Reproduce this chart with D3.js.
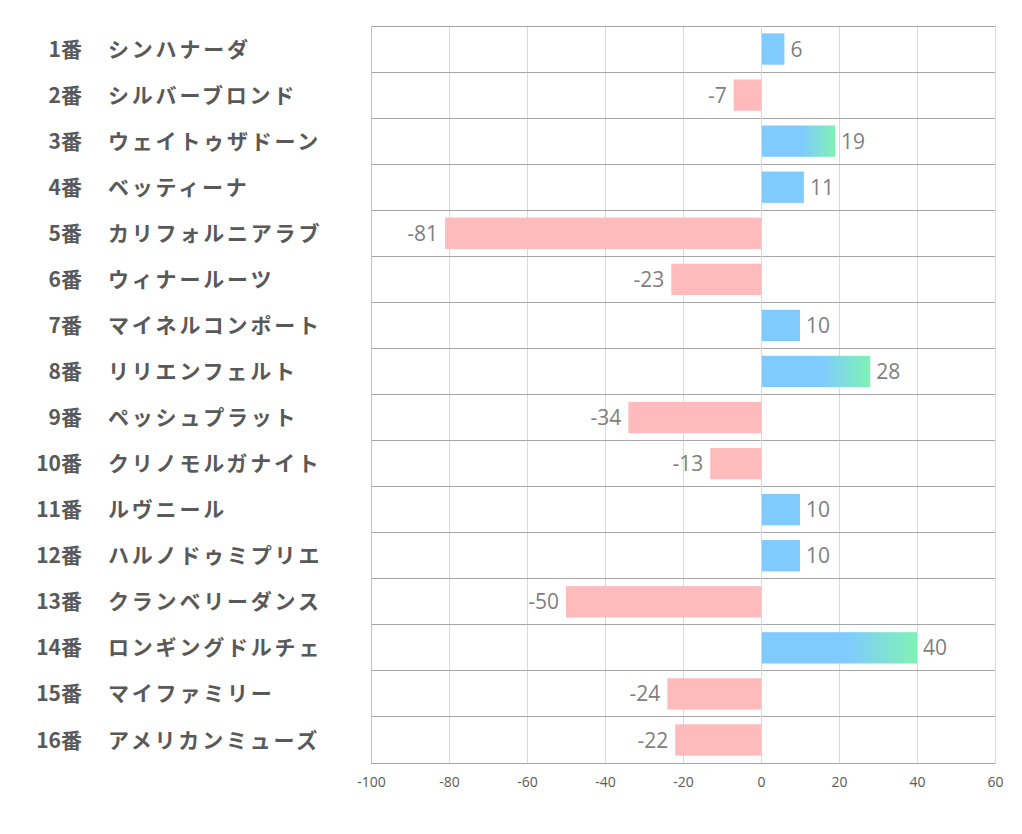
<!DOCTYPE html>
<html><head><meta charset="utf-8">
<script src="https://cdn.jsdelivr.net/npm/d3@7"></script>
<style>body{margin:0;background:#fff}</style>
</head><body>
<svg id="c" width="1022" height="834"></svg>
<script>
const numbers = ["1番","2番","3番","4番","5番","6番","7番","8番","9番","10番","11番","12番","13番","14番","15番","16番"];
const names = ["シンハナーダ","シルバーブロンド","ウェイトゥザドーン","ベッティーナ","カリフォルニアラブ","ウィナールーツ","マイネルコンポート","リリエンフェルト","ペッシュプラット","クリノモルガナイト","ルヴニール","ハルノドゥミプリエ","クランベリーダンス","ロンギングドルチェ","マイファミリー","アメリカンミューズ"];
const values = [6,-7,19,11,-81,-23,10,28,-34,-13,10,10,-50,40,-24,-22];
const tickValues = [-100,-80,-60,-40,-20,0,20,40,60];

const svg = d3.select("#c");
const L = 371, R = 995, T = 26, B = 763;
const x = d3.scaleLinear().domain([-100,60]).range([L,R]);
const y = d3.scaleBand().domain(d3.range(values.length)).range([T,B]).paddingInner(0.32).paddingOuter(0.16);
const rowH = (B-T)/values.length;

svg.append("g").selectAll("line").data(tickValues).join("line")
  .attr("x1",d=>x(d)).attr("x2",d=>x(d)).attr("y1",T).attr("y2",B)
  .attr("stroke","#d9d9d9").attr("stroke-width",1).attr("shape-rendering","crispEdges");
svg.append("g").selectAll("line").data(d3.range(values.length+1)).join("line")
  .attr("x1",L).attr("x2",R).attr("y1",i=>T+i*rowH).attr("y2",i=>T+i*rowH)
  .attr("stroke","#a6a6a6").attr("stroke-width",1).attr("shape-rendering","crispEdges");
svg.append("line").attr("x1",L).attr("x2",L).attr("y1",T).attr("y2",B)
  .attr("stroke","#bfbfbf").attr("shape-rendering","crispEdges");

const defs = svg.append("defs");
values.forEach((v,i)=>{
  const g = defs.append("linearGradient").attr("id","g"+i).attr("x1","0%").attr("x2","100%").attr("y1","0%").attr("y2","0%");
  g.append("stop").attr("offset","0%").attr("stop-color","#7fcbff");
  g.append("stop").attr("offset","55%").attr("stop-color","#7fcbff");
  g.append("stop").attr("offset","100%").attr("stop-color","#7ff2b4");
});

svg.append("g").selectAll("rect").data(values).join("rect")
  .attr("x",d=>x(Math.min(0,d))).attr("width",d=>Math.abs(x(d)-x(0)))
  .attr("y",(d,i)=>y(i)).attr("height",y.bandwidth())
  .attr("fill",(d,i)=> d<0 ? "#ffbabc" : (d>15 ? `url(#g${i})` : "#7fcbff"));

svg.append("line").attr("x1",x(0)).attr("x2",x(0)).attr("y1",T).attr("y2",B)
  .attr("stroke","#d9d9d9").attr("shape-rendering","crispEdges");

svg.append("g").selectAll("text").data(values).join("text")
  .attr("x",d=> d<0 ? x(d)-7 : x(d)+6)
  .attr("y",(d,i)=>y(i)+y.bandwidth()/2)
  .attr("dy","0.36em")
  .attr("text-anchor",d=>d<0?"end":"start")
  .attr("font-family","'Open Sans','Noto Sans',sans-serif").attr("font-size",21)
  .attr("fill","#7f7f7f").text(d=>String(d));

const lab = svg.append("g").attr("font-family","'Noto Sans CJK JP',sans-serif").attr("font-weight","bold").attr("fill","#595959");
lab.selectAll("text.n").data(numbers).join("text").attr("class","n")
  .attr("x",82).attr("y",(d,i)=>y(i)+y.bandwidth()/2).attr("dy","0.36em")
  .attr("font-size",21).attr("text-anchor","end").text(d=>d);
lab.selectAll("text.m").data(names).join("text").attr("class","m")
  .attr("x",108).attr("y",(d,i)=>y(i)+y.bandwidth()/2).attr("dy","0.36em")
  .attr("font-size",21).attr("letter-spacing","2.8px")
  .text(d=>d);

const ax = svg.append("g").attr("transform",`translate(0,${B})`)
  .call(d3.axisBottom(x).tickValues(tickValues).tickFormat(d=>String(d)).tickSize(0).tickPadding(14));
ax.select(".domain").attr("stroke","#a6a6a6");
ax.selectAll("text").attr("font-family","'Open Sans','Noto Sans',sans-serif").attr("font-size",14).attr("fill","#595959");
</script>
</body></html>
